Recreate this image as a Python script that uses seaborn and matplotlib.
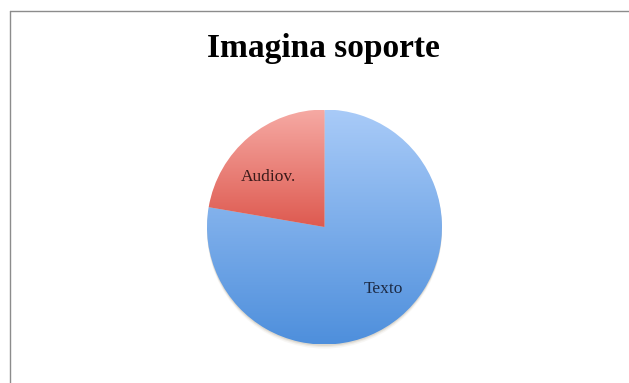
import numpy as np
import matplotlib
matplotlib.use("Agg")
import matplotlib.pyplot as plt
from matplotlib.colors import LinearSegmentedColormap
from matplotlib.patches import Circle
from matplotlib.lines import Line2D
import seaborn as sns

sns.set_theme(style="white")
plt.rcParams["font.family"] = ["Liberation Serif", "DejaVu Serif"]

# Share of each medium
categories = ["Texto", "Audiov."]
values = [77.7, 22.3]
# Vertical gradient (top colour, bottom colour) per slice
gradients = [("#a9cbf8", "#4e8fdc"), ("#f6aaa4", "#de5a50")]
label_colors = ["#1c2a44", "#3a1a1a"]
# Label placement inside each slice: (radius fraction, angle in degrees)
label_polar = [(0.73, -46.7), (0.64, 138.5)]
title = "Imagina soporte"

W, H = 629, 383
fig = plt.figure(figsize=(W / 100, H / 100), dpi=100)
fig.patch.set_facecolor("white")

# Thin frame along the top and left edges
fig.add_artist(Line2D([9.5 / W, 1], [1 - 11 / H, 1 - 11 / H], color="#8c8c8c", lw=1.0))
fig.add_artist(Line2D([9.5 / W, 9.5 / W], [0, 1 - 11 / H], color="#8c8c8c", lw=1.0))

fig.text(323.5 / W, 1 - 49 / H, title, ha="center", va="center",
         fontsize=24, fontweight="bold", color="black")

cx, cy, r = 324.5, 227, 117.5
ax = fig.add_axes([(cx - r) / W, (H - cy - r) / H, 2 * r / W, 2 * r / H])
ax.axis("off")

# Soft drop shadow under the disc
for off, a in [(0.035, 0.10), (0.022, 0.18), (0.012, 0.28)]:
    ax.add_patch(Circle((0, -off), 1.0, color="#b8ae9c", alpha=a, lw=0,
                        zorder=0, clip_on=False))

wedges, texts = ax.pie(values, labels=categories, startangle=90, counterclock=False,
                       radius=1.0, labeldistance=0.70,
                       wedgeprops=dict(linewidth=0, edgecolor="none"),
                       textprops=dict(fontsize=12.5))

grad = np.linspace(0, 1, 256).reshape(-1, 1)
for w, (top, bottom), t, lc, (ld, la) in zip(wedges, gradients, texts,
                                             label_colors, label_polar):
    w.set_facecolor("none")
    ymin, ymax = w.get_path().vertices[:, 1].min(), w.get_path().vertices[:, 1].max()
    cmap = LinearSegmentedColormap.from_list("g", [top, bottom])
    im = ax.imshow(grad, cmap=cmap, extent=[-1, 1, ymin, ymax], origin="upper",
                   aspect="auto", zorder=1, interpolation="bilinear")
    im.set_clip_path(w)
    t.set_color(lc)
    t.set_zorder(3)
    t.set_ha("center")
    t.set_va("center")
    t.set_position((ld * np.cos(np.radians(la)), ld * np.sin(np.radians(la))))

ax.set_xlim(-1, 1)
ax.set_ylim(-1, 1)

fig.savefig("out.png", dpi=100, facecolor="white")
